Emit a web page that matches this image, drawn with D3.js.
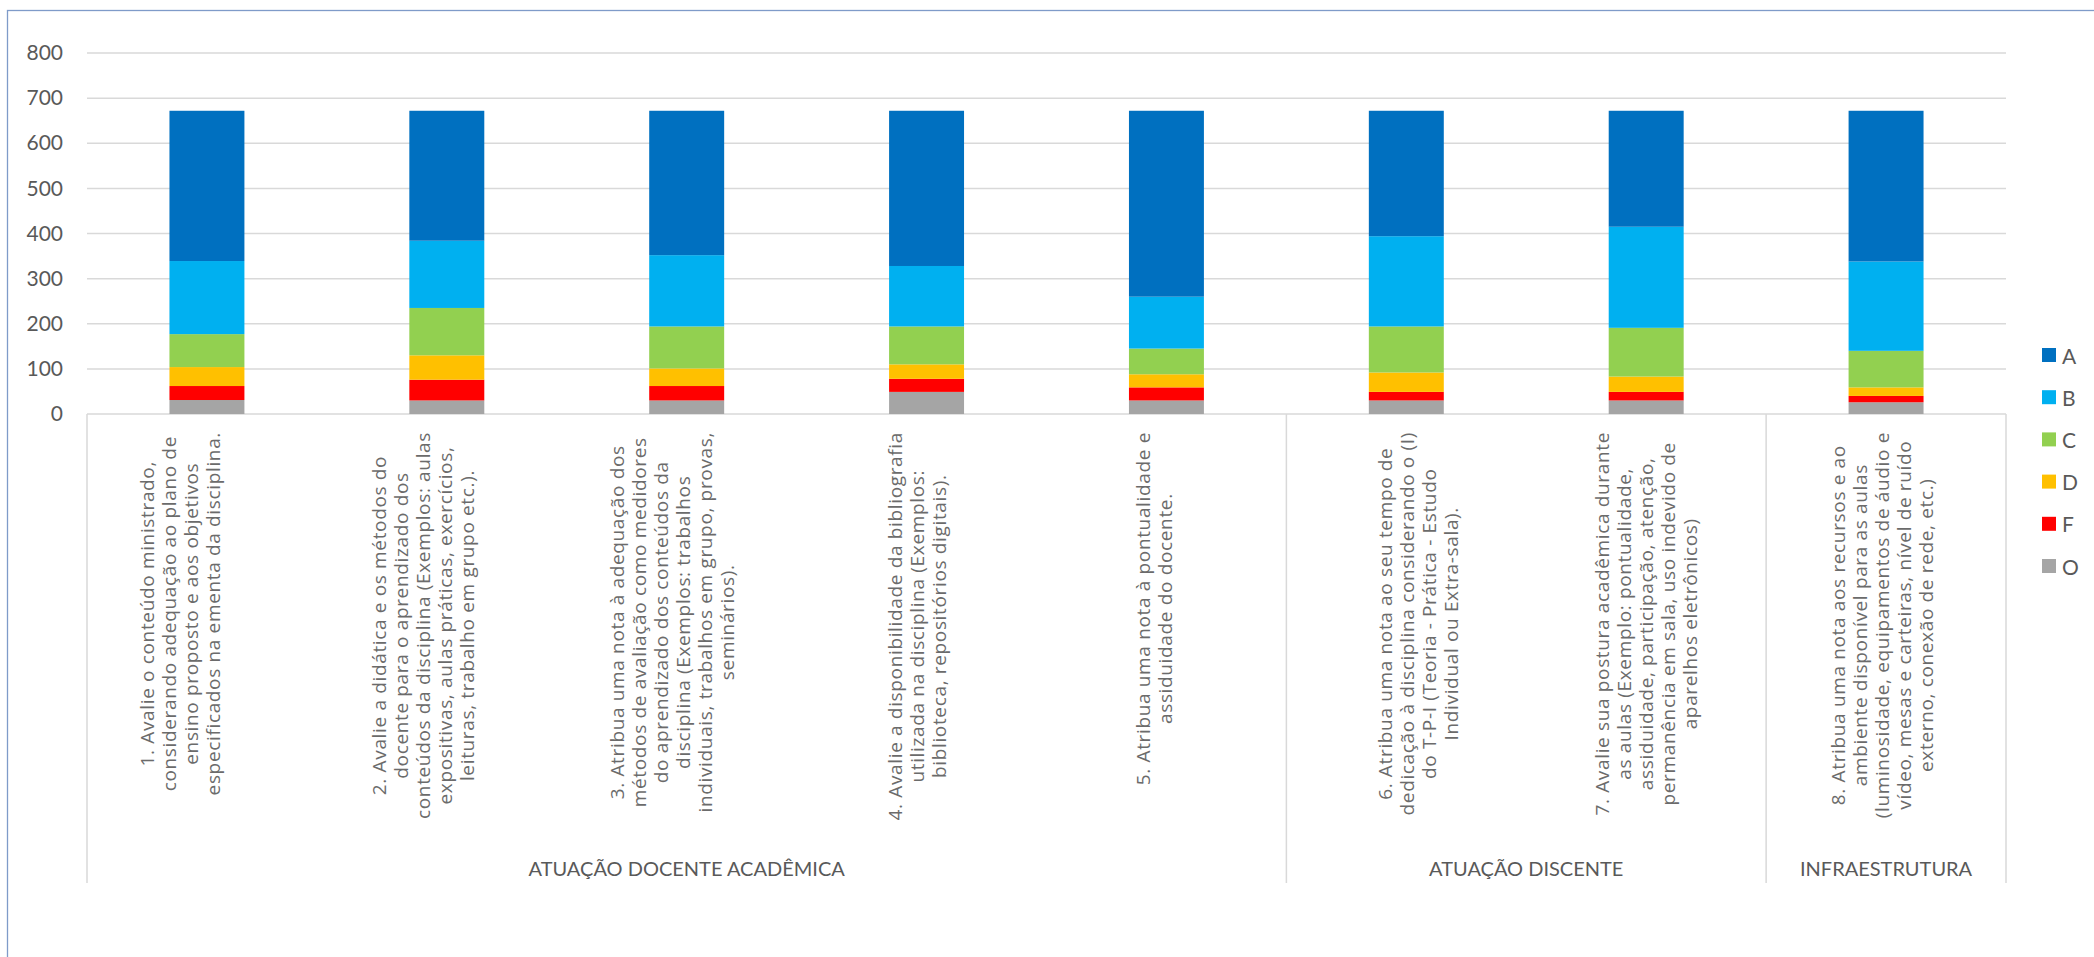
<!DOCTYPE html>
<html>
<head>
<meta charset="utf-8">
<script src="https://cdn.jsdelivr.net/npm/d3@7"></script>
<style>
  html, body { margin: 0; padding: 0; background: #fff; }
  svg { display: block; }
</style>
</head>
<body>
<svg id="chart" width="2094" height="957"></svg>
<script>
// ---------- DATA ----------
const categoryLines = [
  ["1. Avalie o conteúdo ministrado,", "considerando adequação ao plano de", "ensino proposto e aos objetivos", "especificados na ementa da disciplina."],
  ["2. Avalie a didática e os métodos do", "docente para o aprendizado dos", "conteúdos da disciplina (Exemplos: aulas", "expositivas, aulas práticas, exercícios,", "leituras, trabalho em grupo etc.)."],
  ["3. Atribua uma nota à adequação dos", "métodos de avaliação como medidores", "do aprendizado dos conteúdos da", "disciplina (Exemplos: trabalhos", "individuais, trabalhos em grupo, provas,", "seminários)."],
  ["4. Avalie a disponibilidade da bibliografia", "utilizada na disciplina (Exemplos:", "biblioteca, repositórios digitais)."],
  ["5. Atribua uma nota à pontualidade e", "assiduidade do docente."],
  ["6. Atribua uma nota ao seu tempo de", "dedicação à disciplina considerando o (I)", "do T-P-I (Teoria - Prática - Estudo", "Individual ou Extra-sala)."],
  ["7. Avalie sua postura acadêmica durante", "as aulas (Exemplo: pontualidade,", "assiduidade, participação, atenção,", "permanência em sala, uso indevido de", "aparelhos eletrônicos)"],
  ["8. Atribua uma nota aos recursos e ao", "ambiente disponível para as aulas", "(luminosidade, equipamentos de áudio e", "vídeo, mesas e carteiras, nível de ruído", "externo, conexão de rede, etc.)"]
];
const groupNames = ["ATUAÇÃO DOCENTE ACADÊMICA", "ATUAÇÃO DISCENTE", "INFRAESTRUTURA"];
const groupSizes = [5, 2, 1];

const seriesKeys = ["O", "F", "D", "C", "B", "A"];
const valuesO = [31, 30, 30, 49, 30, 30, 30, 26];
const valuesF = [31, 46, 32, 29, 29, 19, 19, 14];
const valuesD = [42, 54, 39, 32, 29, 43, 34, 19];
const valuesC = [73, 105, 93, 84, 57, 102, 108, 81];
const valuesB = [162, 149, 158, 134, 115, 200, 224, 198];
const valuesA = [333, 288, 320, 344, 412, 278, 257, 334];

const yTicks = [0, 100, 200, 300, 400, 500, 600, 700, 800];
const legendOrder = ["A", "B", "C", "D", "F", "O"];

// ---------- STYLE / LAYOUT ----------
const colors = { A: "#0070C0", B: "#00B0F0", C: "#92D050", D: "#FFC000", F: "#FF0000", O: "#A5A5A5" };
const plotLeft = 87, plotRight = 2006, plotTop = 53, plotBottom = 414;
const labelTop = 432, lineGap = 22, boxBottom = 883;
const labelShift = [-27, -24, -15, -10, -12, 12, 0, -4];
const textColor = "#595959";
const labelColor = "#6b6b6b";
const gridColor = "#d9d9d9";

const svg = d3.select("#chart");

// chart border
svg.append("rect")
  .attr("x", 7.5).attr("y", 10.5)
  .attr("width", 2200).attr("height", 1200)
  .attr("fill", "none").attr("stroke", "#7f9bc9").attr("stroke-width", 1.3);

const table = d3.range(categoryLines.length).map(i => ({
  idx: i, O: valuesO[i], F: valuesF[i], D: valuesD[i], C: valuesC[i], B: valuesB[i], A: valuesA[i]
}));

const x = d3.scaleBand()
  .domain(table.map(d => d.idx))
  .range([plotLeft, plotRight])
  .paddingInner(0.6875)
  .paddingOuter(0.34375);

const y = d3.scaleLinear().domain([0, 800]).range([plotBottom, plotTop]);

// gridlines
svg.append("g").selectAll("line").data(yTicks).join("line")
  .attr("x1", plotLeft).attr("x2", plotRight)
  .attr("y1", d => y(d)).attr("y2", d => y(d))
  .attr("stroke", gridColor).attr("stroke-width", 1.5);

// y axis labels
const yAxis = d3.axisLeft(y).tickValues(yTicks).tickSize(0).tickPadding(0);
const yg = svg.append("g").attr("transform", `translate(63,0)`).call(yAxis);
yg.select(".domain").remove();
yg.selectAll("text")
  .attr("font-family", "Lato, 'Open Sans', sans-serif")
  .attr("font-size", 21)
  .attr("fill", textColor);

// stacked bars
const stack = d3.stack().keys(seriesKeys);
const series = stack(table);
svg.append("g").selectAll("g").data(series).join("g")
  .attr("fill", s => colors[s.key])
  .selectAll("rect").data(s => s).join("rect")
  .attr("x", d => x(d.data.idx))
  .attr("width", x.bandwidth())
  .attr("y", d => y(d[1]))
  .attr("height", d => y(d[0]) - y(d[1]));

// category box lines
const boundaries = [0];
groupSizes.forEach((s, i) => boundaries.push(boundaries[i] + s));
const step = x.step();
const boundaryX = b => plotLeft + b * step;
svg.append("g").selectAll("line").data(boundaries).join("line")
  .attr("x1", b => boundaryX(b)).attr("x2", b => boundaryX(b))
  .attr("y1", plotBottom).attr("y2", boxBottom)
  .attr("stroke", gridColor).attr("stroke-width", 1.5);

// rotated category labels
const labG = svg.append("g");
categoryLines.forEach((lines, i) => {
  const cx = x(i) + x.bandwidth() / 2 + labelShift[i];
  const g = labG.append("g");
  const texts = g.selectAll("text").data(lines).join("text")
    .text(d => d)
    .attr("font-family", "'Open Sans', sans-serif")
    .attr("font-size", 19)
    .attr("letter-spacing", 0.65)
    .attr("fill", labelColor)
    .attr("text-anchor", "middle")
    .attr("dominant-baseline", "central");
  let maxLen = 0;
  texts.each(function () { maxLen = Math.max(maxLen, this.getComputedTextLength()); });
  const cy = labelTop + maxLen / 2;
  const n = lines.length;
  texts.attr("transform", (d, j) => `translate(${cx + (j - (n - 1) / 2) * lineGap},${cy}) rotate(-90)`);
});

// group labels
svg.append("g").selectAll("text").data(groupNames).join("text")
  .text(d => d)
  .attr("x", (d, i) => (boundaryX(boundaries[i]) + boundaryX(boundaries[i + 1])) / 2)
  .attr("y", 868)
  .attr("text-anchor", "middle")
  .attr("dominant-baseline", "central")
  .attr("font-family", "Lato, sans-serif")
  .attr("font-size", 20)
  .attr("fill", textColor);

// legend
const lg = svg.append("g").selectAll("g").data(legendOrder).join("g")
  .attr("transform", (d, i) => `translate(2042,${355 + i * 42.2})`);
lg.append("rect").attr("x", 0).attr("y", -7).attr("width", 14).attr("height", 14)
  .attr("fill", d => colors[d]);
lg.append("text").text(d => d)
  .attr("x", 20).attr("y", 0)
  .attr("dominant-baseline", "central")
  .attr("font-family", "Lato, sans-serif")
  .attr("font-size", 21)
  .attr("fill", textColor);
</script>
</body>
</html>
